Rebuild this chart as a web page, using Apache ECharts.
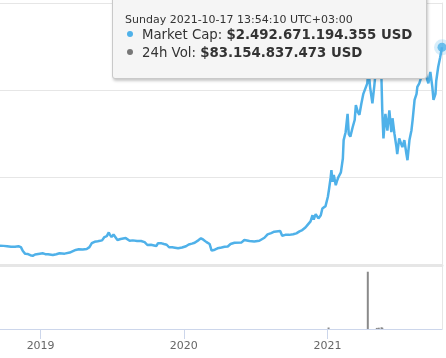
<!DOCTYPE html>
<html><head><meta charset="utf-8">
<script src="https://cdn.jsdelivr.net/npm/echarts@6/dist/echarts.min.js"></script>
<style>html,body{margin:0;padding:0;background:#fff;overflow:hidden}#c{width:446px;height:358px}</style>
</head><body><div id="c"></div>
<script>
// Total market cap (billions USD)
const capDates = ["2018-09-22","2018-10-01","2018-10-10","2018-10-20","2018-10-30","2018-11-08","2018-11-14","2018-11-19","2018-11-25","2018-12-02","2018-12-08","2018-12-14","2018-12-20","2018-12-24",
"2019-01-01","2019-01-08","2019-01-15","2019-01-22","2019-02-03","2019-02-12","2019-02-20","2019-03-05","2019-03-18","2019-04-02","2019-04-10","2019-04-20","2019-04-30","2019-05-07","2019-05-13","2019-05-20","2019-05-28","2019-06-02","2019-06-08","2019-06-14","2019-06-20","2019-06-25","2019-06-28","2019-07-02","2019-07-07","2019-07-12","2019-07-17","2019-07-25","2019-08-07","2019-08-17","2019-08-25","2019-09-05","2019-09-15","2019-09-24","2019-10-01","2019-10-10","2019-10-18","2019-10-24","2019-10-28","2019-11-06","2019-11-12","2019-11-19","2019-11-25","2019-12-03","2019-12-10","2019-12-18","2019-12-28",
"2020-01-07","2020-01-14","2020-01-22","2020-01-29","2020-02-08","2020-02-14","2020-02-20","2020-02-28","2020-03-07","2020-03-12","2020-03-16","2020-03-20","2020-03-27","2020-04-06","2020-04-14","2020-04-22","2020-04-29","2020-05-09","2020-05-14","2020-05-27","2020-06-03","2020-06-16","2020-06-28","2020-07-11","2020-07-24","2020-08-01","2020-08-10","2020-08-18","2020-09-02","2020-09-07","2020-09-15","2020-09-25","2020-10-05","2020-10-13","2020-10-21","2020-10-28","2020-11-05","2020-11-10","2020-11-18","2020-11-23","2020-11-26","2020-12-01","2020-12-08","2020-12-14","2020-12-18","2020-12-26",
"2021-01-01","2021-01-04","2021-01-08","2021-01-10","2021-01-13","2021-01-16","2021-01-21","2021-01-24","2021-01-28","2021-02-03","2021-02-08","2021-02-10","2021-02-13","2021-02-15","2021-02-18","2021-02-20","2021-02-23","2021-02-27","2021-03-05","2021-03-10","2021-03-13","2021-03-18","2021-03-22","2021-03-27","2021-04-01","2021-04-06","2021-04-11","2021-04-14","2021-04-18","2021-04-24","2021-04-29","2021-05-04","2021-05-08","2021-05-12","2021-05-15","2021-05-17","2021-05-19","2021-05-22","2021-05-27","2021-06-01","2021-06-06","2021-06-11","2021-06-14","2021-06-19","2021-06-24","2021-06-26","2021-07-01","2021-07-06","2021-07-09","2021-07-14","2021-07-19","2021-07-22","2021-07-27","2021-08-01","2021-08-04","2021-08-09","2021-08-14","2021-08-16","2021-08-21","2021-08-26","2021-08-29","2021-09-03","2021-09-08","2021-09-13","2021-09-18","2021-09-23","2021-09-26","2021-10-01","2021-10-03","2021-10-08","2021-10-13","2021-10-17 13:54:10"];
const capValues = [221,219,216,210,208,214,205,160,128,125,112,104,120,137,
130,134,124,122,114,123,134,130,142,172,180,178,184,205,250,266,272,286,282,320,330,373,345,320,350,330,286,298,308,278,282,276,274,262,229,231,224,218,250,248,240,232,203,202,198,192,200,
215,235,245,255,285,305,290,262,240,165,150,175,191,200,209,212,240,255,245,259,286,274,270,278,312,351,365,381,389,335,345,345,352,362,385,400,430,457,500,570,520,583,533,570,648,674,
781,870,1000,1086,952,1030,914,960,1010,1060,1220,1430,1430,1520,1540,1730,1500,1470,1580,1660,1830,1750,1720,1850,1960,1980,2080,2250,2040,1850,2060,2300,2450,2560,2250,2130,1770,1450,1730,1540,1770,1520,1680,1500,1350,1270,1450,1430,1350,1430,1280,1200,1430,1540,1660,1890,1960,2040,2080,2150,2190,2270,2150,2080,2210,2040,1890,1960,2110,2270,2380,2492.671];
// 24h volume bars that are visible (billions USD)
const volDates = ["2021-01-04","2021-04-14","2021-05-07","2021-05-12","2021-05-19","2021-05-21"];
const volValues = [520, 20000, 380, 450, 600, 420];
// Tooltip texts
const tipHeader = "Sunday 2021-10-17 13:54:10 UTC+03:00";
const tipMarketCap = 2492671194355;
const tipVolume = 83154837473;
const axisStart = "2018-09-22";
const axisEnd = capDates[capDates.length - 1];

const blue = '#4fb1e9';
const lastIdx = capDates.length - 1;
const lastPoint = [capDates[lastIdx], capValues[lastIdx]];
function fmt(n){ return '$' + String(n).replace(/\B(?=(\d{3})+(?!\d))/g, '.') + ' USD'; }
const dot = c => `<span style="display:inline-block;width:6px;height:6px;border-radius:3px;background:${c};margin:0 9px 2px 2px;vertical-align:middle"></span>`;

const chart = echarts.init(document.getElementById('c'), null, {renderer: 'canvas'});
const YEAR = 365 * 24 * 3600 * 1000;
chart.setOption({
  animation: false,
  textStyle: {fontFamily: 'DejaVu Sans'},
  grid: [
    {left: 0, right: 4, top: 3, height: 262},
    {left: 0, right: 4, top: 266, bottom: 29}
  ],
  xAxis: [
    {type: 'time', gridIndex: 0, min: axisStart, max: axisEnd,
     axisLine: {show: true, lineStyle: {color: '#e6e6e6', width: 3}},
     axisTick: {show: false}, axisLabel: {show: false}, splitLine: {show: false}},
    {type: 'time', gridIndex: 1, min: axisStart, max: axisEnd,
     minInterval: YEAR, maxInterval: YEAR * 1.01,
     axisLine: {show: true, lineStyle: {color: '#ccd6eb', width: 1}},
     axisTick: {show: true, length: 10, lineStyle: {color: '#ccd6eb'}},
     axisLabel: {formatter: '{yyyy}', color: '#666', fontSize: 11, fontFamily: 'DejaVu Sans', margin: 12, showMinLabel: false, showMaxLabel: false},
     splitLine: {show: false}}
  ],
  yAxis: [
    {type: 'value', gridIndex: 0, position: 'right', min: 0, max: 3000, interval: 1000,
     axisLine: {show: true, lineStyle: {color: '#e6e6e6'}}, axisTick: {show: false}, axisLabel: {show: false},
     splitLine: {show: true, lineStyle: {color: '#e6e6e6', width: 1}}},
    {type: 'value', gridIndex: 1, position: 'right', min: 0, max: 22000,
     axisLine: {show: true, lineStyle: {color: '#e6e6e6'}}, axisTick: {show: false}, axisLabel: {show: false},
     splitLine: {show: false}}
  ],
  tooltip: {
    trigger: 'item', triggerOn: 'none', alwaysShowContent: true, transitionDuration: 0,
    position: [112, -6],
    backgroundColor: '#f5f5f5', borderColor: '#c9c9c9', borderWidth: 1, padding: [18, 8, 0, 12],
    textStyle: {fontFamily: 'DejaVu Sans', color: '#333', fontSize: 13},
    extraCssText: 'width:315px;height:85px;box-sizing:border-box;border-radius:3px;box-shadow:1px 2px 3px rgba(0,0,0,0.22);',
    formatter: () =>
      `<div style="font-size:11px;line-height:13px;color:#333">${tipHeader}</div>` +
      `<div style="font-size:13.3px;line-height:18px;color:#333">${dot(blue)}Market Cap: <b>${fmt(tipMarketCap)}</b></div>` +
      `<div style="font-size:13.3px;line-height:18px;color:#333">${dot('#777')}24h Vol: <b>${fmt(tipVolume)}</b></div>`
  },
  series: [
    {type: 'line', xAxisIndex: 0, yAxisIndex: 0, showSymbol: false, symbol: 'none',
     data: capDates.map((d, i) => [d, capValues[i]]),
     lineStyle: {color: blue, width: 2.5}, clip: true},
    {type: 'scatter', xAxisIndex: 0, yAxisIndex: 0, data: [lastPoint], symbolSize: 16,
     itemStyle: {color: 'rgba(79,177,233,0.28)'}, clip: false, z: 5},
    {type: 'scatter', xAxisIndex: 0, yAxisIndex: 0, data: [lastPoint], symbolSize: 9,
     itemStyle: {color: blue}, clip: false, z: 6},
    {type: 'bar', xAxisIndex: 1, yAxisIndex: 1, barWidth: 2,
     data: volDates.map((d, i) => [d, volValues[i]]),
     itemStyle: {color: '#8a8a8a'}}
  ]
});
chart.dispatchAction({type: 'showTip', seriesIndex: 2, dataIndex: 0});
</script></body></html>
